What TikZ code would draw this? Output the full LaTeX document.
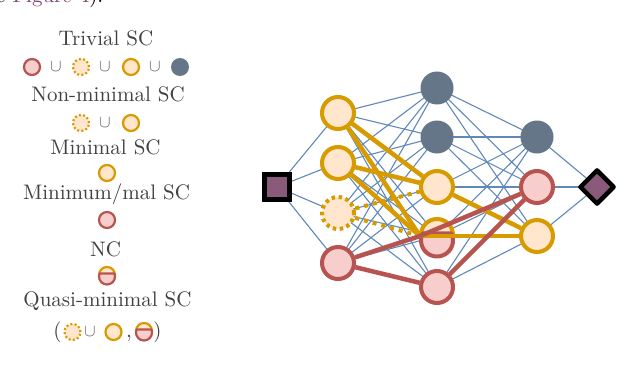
\documentclass[tikz,border=0pt]{standalone}
\usepackage{fontspec}
\setmainfont{lmroman10-regular}[Extension=.otf]
\usetikzlibrary{shapes.geometric}
\definecolor{yel}{HTML}{D79B00}
\definecolor{yelf}{HTML}{FFE6CC}
\definecolor{rd}{HTML}{B85450}
\definecolor{rdf}{HTML}{F8CECC}
\definecolor{gry}{HTML}{647687}
\definecolor{blu}{HTML}{6089BA}
\definecolor{purp}{HTML}{8A5A7A}
\definecolor{linkc}{HTML}{7D4470}
\definecolor{txt}{HTML}{404040}
\begin{document}
\begin{tikzpicture}[x=1pt,y=-1pt,
  yn/.style={circle,draw=yel,fill=yelf,line width=4pt,minimum size=32pt,inner sep=0pt},
  ydn/.style={yn,dash pattern=on 3.5pt off 3.5pt},
  rn/.style={circle,draw=rd,fill=rdf,line width=4pt,minimum size=32pt,inner sep=0pt},
  gn/.style={circle,fill=gry,minimum size=33pt,inner sep=0pt},
  lyn/.style={circle,draw=yel,fill=yelf,line width=2.2pt,minimum size=16pt,inner sep=0pt},
  ldn/.style={lyn,dash pattern=on 2pt off 2.2pt},
  lrn/.style={circle,draw=rd,fill=rdf,line width=2.2pt,minimum size=16pt,inner sep=0pt},
  lgn/.style={circle,fill=gry,minimum size=18pt,inner sep=0pt},
  lbl/.style={text=txt,font=\fontsize{21}{25}\selectfont,anchor=base,inner sep=0pt},
  cupn/.style={text=txt!85,font=\fontsize{19}{19}\selectfont,inner sep=0pt},
  thin/.style={draw=blu,line width=1.1pt},
  ythick/.style={draw=yel,line width=4.5pt},
  ydot/.style={draw=yel,line width=4pt,dash pattern=on 4pt off 5pt},
  rthick/.style={draw=rd,line width=4.5pt}
]
\clip (0,0) rectangle (640,369);
\fill[white] (0,0) rectangle (640,369);

% cut-off text at top
\node[anchor=base west,inner sep=0pt,font=\fontsize{21}{25}\selectfont] (top) at (-4,3) {e \textcolor{linkc}{Figure 4}).};

% ---------- legend ----------
\node[lbl] (t1) at (106,46) {Trivial SC};
\node[lrn] (a1) at (32,67) {};
\node[cupn] (c1) at (56,67) {$\cup$};
\node[ldn] (a2) at (81,67) {};
\node[cupn] (c2) at (105,67) {$\cup$};
\node[lyn] (a3) at (131,67) {};
\node[cupn] (c3) at (155,67) {$\cup$};
\node[lgn] (a4) at (180,67) {};

\node[lbl] (t2) at (108,101.5) {Non-minimal SC};
\node[ldn] (b1) at (81,123) {};
\node[cupn] (c4) at (105,123) {$\cup$};
\node[lyn] (b2) at (131,123) {};

\node[lbl] (t3) at (105.5,154) {Minimal SC};
\node[lyn] (m1) at (107,173) {};

\node[lbl] (t4) at (106.5,199.5) {Minimum/mal SC};
\node[lrn] (m2) at (107,220) {};

\node[lbl] (t5) at (105.5,256) {NC};
% split symbol (legend)
\node[lyn] (m3) at (107,275) {};
\fill[rdf] (107,276.5) ++(-22:8) arc[start angle=-22,end angle=202,radius=8] -- cycle;
\draw[rd,line width=2.2pt,line join=round] (107,276.5) ++(-22:8) arc[start angle=-22,end angle=202,radius=8] -- cycle;

\node[lbl] (t6) at (107.5,306) {Quasi-minimal SC};
\node[lbl] (p1) at (57.5,337) {(};
\node[ldn] (q1) at (72.5,332) {};
\node[cupn] (c5) at (90,332) {$\cup$};
\node[lyn] (q2) at (113.5,332) {};
\node[lbl] (cm) at (129,337) {,};
\node[lyn] (q3) at (144,331) {};
\fill[rdf] (144,332.5) ++(-22:8) arc[start angle=-22,end angle=202,radius=8] -- cycle;
\draw[rd,line width=2.2pt,line join=round] (144,332.5) ++(-22:8) arc[start angle=-22,end angle=202,radius=8] -- cycle;
\node[lbl] (p2) at (157.5,337) {)};

% ---------- network ----------
\coordinate (in) at (277,187);
\coordinate (out) at (597,187);
\coordinate (h1) at (338,113);
\coordinate (h2) at (338,163);
\coordinate (h3) at (338,213);
\coordinate (h4) at (338,263);
\coordinate (k1) at (437,88);
\coordinate (k2) at (437,137);
\coordinate (k3) at (437,187);
\coordinate (k4) at (437,236);
\coordinate (k5) at (437,287);
\coordinate (l1) at (537,137);
\coordinate (l2) at (537,187);
\coordinate (l3) at (537,236);

% thin connections
\foreach \h in {h1,h2,h3,h4}{\draw[thin] (in) -- (\h);}
\foreach \h in {h1,h2,h3,h4}{\foreach \k in {k1,k2,k3,k4,k5}{\draw[thin] (\h) -- (\k);}}
\foreach \k in {k1,k2,k3,k4,k5}{\foreach \l in {l1,l2,l3}{\draw[thin] (\k) -- (\l);}}
\foreach \l in {l1,l2,l3}{\draw[thin] (\l) -- (out);}

% nodes
\node[rectangle,draw=black,fill=purp,line width=4.5pt,minimum size=25pt,inner sep=0pt] (IN) at (in) {};
\node[diamond,draw=black,fill=purp,line width=4.5pt,line join=round,minimum size=35pt,inner sep=0pt] (OUT) at (out) {};
\node[yn] (H1) at (h1) {};
\node[yn] (H2) at (h2) {};
\node[ydn] (H3) at (h3) {};
\node[rn] (H4) at (h4) {};
\node[gn] (K1) at (k1) {};
\node[gn] (K2) at (k2) {};
\node[yn] (K3) at (k3) {};
% split node
\node[yn] (K4) at (437,235) {};
\fill[rdf] (437,240.5) ++(-26:16) arc[start angle=-26,end angle=206,radius=16] -- cycle;
\draw[rd,line width=4pt,line join=round] (437,240.5) ++(-26:16) arc[start angle=-26,end angle=206,radius=16] -- cycle;
\coordinate (sp) at (420,236);
\node[rn] (K5) at (k5) {};
\node[gn] (L1) at (l1) {};
\node[rn] (L2) at (l2) {};
\node[yn] (L3) at (l3) {};

% highlighted connections
\draw[ythick] (H1) -- (K3);
\draw[ythick] (H1) -- (sp);
\draw[ythick] (H2) -- (K3);
\draw[ythick] (H2) -- (sp);
\draw[ydot] (H3) -- (K3);
\draw[ydot] (H3) -- (sp);
\draw[ythick] (K3) -- (L3);
\draw[ythick] (sp) -- (L3);
\draw[rthick] (H4) -- (sp);
\draw[rthick] (H4) -- (K5);
\draw[rthick] (sp) -- (L2);
\draw[rthick] (K5) -- (L2);
\end{tikzpicture}
\end{document}
